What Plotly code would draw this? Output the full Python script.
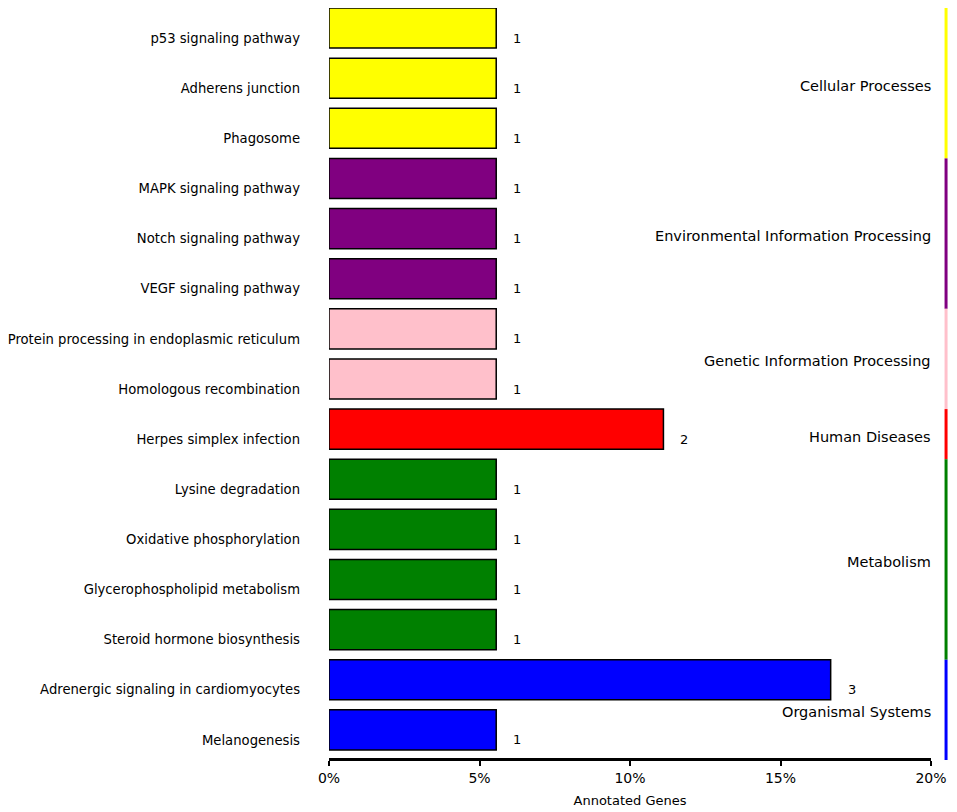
import plotly.graph_objects as go

# dados
pathways = [
    "p53 signaling pathway", "Adherens junction", "Phagosome",
    "MAPK signaling pathway", "Notch signaling pathway", "VEGF signaling pathway",
    "Protein processing in endoplasmic reticulum", "Homologous recombination",
    "Herpes simplex infection",
    "Lysine degradation", "Oxidative phosphorylation",
    "Glycerophospholipid metabolism", "Steroid hormone biosynthesis",
    "Adrenergic signaling in cardiomyocytes", "Melanogenesis",
]
counts = [1, 1, 1, 1, 1, 1, 1, 1, 2, 1, 1, 1, 1, 3, 1]
total_genes = 18
groups = [
    "Cellular Processes", "Cellular Processes", "Cellular Processes",
    "Environmental Information Processing", "Environmental Information Processing",
    "Environmental Information Processing",
    "Genetic Information Processing", "Genetic Information Processing",
    "Human Diseases",
    "Metabolism", "Metabolism", "Metabolism", "Metabolism",
    "Organismal Systems", "Organismal Systems",
]
group_names = ["Cellular Processes", "Environmental Information Processing",
               "Genetic Information Processing", "Human Diseases",
               "Metabolism", "Organismal Systems"]
group_colors = ["#FFFF00", "#800080", "#FFC0CB", "#FF0000", "#008000", "#0000FF"]

FONT = "DejaVu Sans"
pos = list(range(len(pathways)))
pct = [c / total_genes for c in counts]
colmap = dict(zip(group_names, group_colors))
bar_colors = [colmap[g] for g in groups]

y_top, y_bot = -0.4, 14.56


def to_paper(v):
    # eixo y invertido: y_top fica em 1, y_bot em 0
    return (y_bot - v) / (y_bot - y_top)


fig = go.Figure()
fig.add_trace(go.Bar(
    x=pct, y=pos, orientation="h",
    width=0.8,
    marker=dict(color=bar_colors, line=dict(color="black", width=1.5)),
    hoverinfo="x+text", text=pathways, textposition="none",
))

annotations = []
# números ao lado das barras
for i, (p, c) in enumerate(zip(pct, counts)):
    annotations.append(dict(
        x=p, y=i + 0.2, xref="x", yref="y", text=str(c), showarrow=False,
        xanchor="left", xshift=15, font=dict(family=FONT, size=13, color="black"),
    ))

shapes = []
# barras de categoria à direita
for name, color in zip(group_names, group_colors):
    idx = [i for i, g in enumerate(groups) if g == name]
    y0, y1 = idx[0] - 0.4, idx[-1] + 0.6
    shapes.append(dict(type="line", xref="paper", yref="paper", x0=1.025, x1=1.025,
                       y0=to_paper(y0), y1=to_paper(y1),
                       line=dict(color=color, width=3)))
    annotations.append(dict(
        x=1.003, y=(idx[0] + idx[-1]) / 2 + 0.15, xref="paper", yref="y",
        text=name, showarrow=False, xanchor="right",
        font=dict(family=FONT, size=14.5, color="black"),
    ))

fig.update_layout(
    width=949, height=804,
    margin=dict(l=321, r=26, t=0, b=54),
    plot_bgcolor="white", paper_bgcolor="white",
    font=dict(family=FONT, size=13, color="black"),
    showlegend=False,
    annotations=annotations, shapes=shapes,
    xaxis=dict(
        range=[0, 0.2], tickvals=[0, 0.05, 0.1, 0.15, 0.2], tickformat=".0%",
        showgrid=False, zeroline=False,
        showline=True, linecolor="black", linewidth=3,
        ticks="outside", ticklen=5, tickwidth=2, tickcolor="black",
        title=dict(text="Annotated Genes", standoff=12, font=dict(size=13)),
        tickfont=dict(size=14),
    ),
    yaxis=dict(
        range=[y_bot, y_top], showgrid=False, zeroline=False, showline=False,
        tickvals=[i + 0.2 for i in pos], ticktext=pathways,
        ticks="", ticklabelstandoff=28, tickfont=dict(size=13.2),
    ),
)

fig.write_html("out.html")
